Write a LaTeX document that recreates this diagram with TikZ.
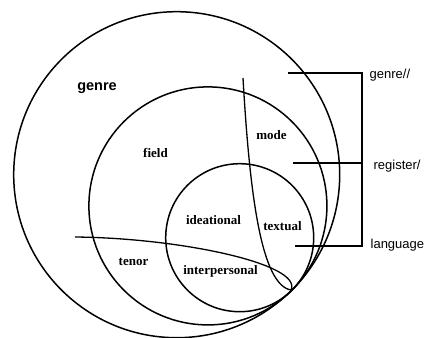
\documentclass[tikz,border=0pt]{standalone}
\usepackage{fontspec}
\setmainfont{Liberation Serif}
\setsansfont{Liberation Sans}
\begin{document}
\begin{tikzpicture}[x=1pt,y=-1pt,line width=1.3pt,
  inlabel/.style={font=\fontsize{13}{15}\selectfont\bfseries, inner sep=0pt},
  sidelabel/.style={font=\sffamily\fontsize{13}{15}\selectfont, inner sep=0pt, anchor=west},
  ring/.style={draw, line width=1.5pt}]
\useasboundingbox (0,0) rectangle (433,337);
\coordinate (T) at (291,290);
% circles (all tangent at T)
\draw[ring] (176.7,174.7) circle[radius=163pt];
\draw[ring] (207.9,205.9) circle[radius=119pt];
\draw[ring] (239.7,237.7) circle[radius=74pt];
% mode line and tenor line
\coordinate (modetop) at (243,78);
\coordinate (tenorleft) at (75,237);
\draw (modetop) .. controls (250,200) and (262,285) .. (T);
\draw (tenorleft) .. controls (180,238) and (303,264) .. (T);
% bracket
\coordinate (g1) at (288,73);
\coordinate (g2) at (362,73);
\coordinate (r1) at (293,163);
\coordinate (r2) at (362,163);
\coordinate (l1) at (295,246);
\coordinate (l2) at (362,246);
\draw[line width=1.2pt] (g1) -- (g2) -- (l2) -- (l1);
\draw[line width=1.2pt] (r1) -- (r2);
% labels
\node[inner sep=0pt, font=\sffamily\bfseries\fontsize{14.5}{16}\selectfont] (genre) at (97,88) {genre};
\node[inlabel] (field) at (155.5,153) {field};
\node[inlabel] (mode) at (271.5,135) {mode};
\node[inlabel] (ideational) at (213.5,220) {ideational};
\node[inlabel] (textual) at (282.5,226) {textual};
\node[inlabel] (tenor) at (133.5,262) {tenor};
\node[inlabel] (interpersonal) at (220.5,271) {interpersonal};
\node[sidelabel] (lgenre) at (369,75) {genre//};
\node[sidelabel] (lregister) at (373,166) {register/};
\node[sidelabel] (llanguage) at (370,245) {language};
\end{tikzpicture}
\end{document}
